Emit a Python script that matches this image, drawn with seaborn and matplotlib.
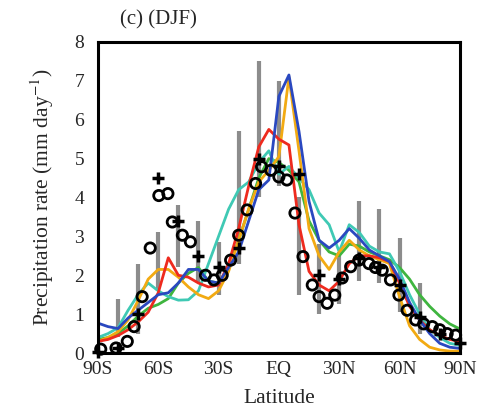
import numpy as np
import pandas as pd
import matplotlib
matplotlib.use("Agg")
import matplotlib.pyplot as plt
import seaborn as sns

# Zonal-mean DJF precipitation (mm/day) on a 5-degree latitude grid
lat = list(range(-90, 91, 5))

blue = [0.77, 0.68, 0.63, 0.90, 1.10, 1.30, 1.50, 1.55, 1.80, 2.15, 2.15, 1.85, 1.80,
        2.20, 2.60, 3.40, 4.20, 4.45, 6.60, 7.15, 5.70, 3.90, 2.90, 2.70, 2.90, 3.20,
        2.95, 2.65, 2.50, 2.35, 1.90, 1.30, 0.85, 0.50, 0.25, 0.15, 0.12]
red = [0.30, 0.35, 0.45, 0.60, 0.80, 1.05, 1.55, 2.45, 2.00, 1.95, 1.80, 1.70, 1.75,
       2.30, 3.20, 4.30, 5.30, 5.75, 5.50, 5.35, 3.30, 2.10, 1.75, 1.60, 1.85, 2.30,
       2.50, 2.50, 2.45, 2.35, 1.80, 1.20, 0.85, 0.60, 0.45, 0.35, 0.30]
orange = [0.30, 0.40, 0.55, 0.85, 1.35, 1.90, 2.15, 2.15, 1.95, 1.70, 1.50, 1.40, 1.60,
          2.10, 2.90, 3.70, 4.40, 4.70, 5.05, 7.10, 5.20, 3.20, 2.50, 2.15, 2.60, 2.90,
          2.65, 2.50, 2.40, 2.30, 1.45, 0.70, 0.35, 0.15, 0.08, 0.05, 0.05]
green = [0.35, 0.40, 0.50, 0.70, 0.95, 1.15, 1.25, 1.40, 1.80, 2.05, 2.20, 1.85, 1.80,
         2.20, 2.90, 3.70, 4.50, 5.00, 4.90, 4.70, 4.40, 3.40, 2.90, 2.60, 2.50, 2.80,
         2.75, 2.60, 2.50, 2.40, 2.20, 1.90, 1.50, 1.20, 0.95, 0.75, 0.62]
cyan = [0.40, 0.50, 0.65, 1.10, 1.50, 1.80, 1.60, 1.45, 1.36, 1.37, 1.60, 2.30, 3.00,
        3.70, 4.20, 4.40, 4.90, 5.20, 4.60, 4.80, 4.50, 4.20, 3.60, 3.30, 2.60, 3.30,
        3.10, 2.75, 2.60, 2.55, 2.10, 1.50, 1.00, 0.60, 0.40, 0.25, 0.20]

# Observational spread (gray bars) every 10 degrees
bar_lat = [-80, -70, -60, -50, -40, -30, -20, -10, 0, 10, 20, 30, 40, 50, 60, 70]
bar_lo = [0.40, 0.50, 1.60, 2.20, 1.80, 1.50, 2.30, 4.00, 4.30, 1.50, 1.00, 1.25, 1.85, 1.80, 1.05, 0.50]
bar_hi = [1.40, 2.30, 3.10, 3.80, 3.40, 2.85, 5.70, 7.50, 7.00, 4.00, 2.80, 2.60, 3.90, 3.70, 2.95, 1.80]

# Observation set 1 (plus signs)
plus_lat = [-90, -80, -70, -60, -50, -40, -30, -20, -10, 0, 10, 20, 30, 40, 50, 60, 70, 80, 90]
plus_val = [0.03, 0.13, 1.00, 4.50, 3.40, 2.50, 2.20, 2.70, 5.00, 4.80, 4.60, 2.00, 1.90,
            2.45, 2.20, 1.75, 0.93, 0.50, 0.25]

# Observation set 2 (open circles)
circ_lat = [-88.6, -81, -75.4, -72, -68, -64, -59.7, -55.2, -53, -48, -44, -36.5, -32.3,
            -28.2, -24, -20, -15.8, -11.6, -8.6, -4, 0, 4, 8, 12, 16.6, 20, 24, 27.8,
            31.5, 35.7, 39.8, 44.8, 48, 51.4, 55.5, 59.7, 63.8, 68, 72, 76.3, 80, 83.7, 87.9]
circ_val = [0.10, 0.13, 0.30, 0.68, 1.45, 2.70, 4.05, 4.10, 3.37, 3.03, 2.86, 2.00, 1.88,
            2.00, 2.39, 3.03, 3.68, 4.36, 4.79, 4.70, 4.53, 4.45, 3.60, 2.48, 1.75, 1.45,
            1.28, 1.49, 1.93, 2.22, 2.39, 2.30, 2.20, 2.13, 1.88, 1.49, 1.10, 0.85, 0.75,
            0.68, 0.60, 0.50, 0.46]

xticks = [-90, -60, -30, 0, 30, 60, 90]
xticklabels = ["90S", "60S", "30S", "EQ", "30N", "60N", "90N"]

models = {"blue": blue, "red": red, "orange": orange, "green": green, "cyan": cyan}
palette = {"blue": "#2a48c0", "red": "#ee2a1e", "orange": "#f2aa12",
           "green": "#3fb53f", "cyan": "#3fc9b4"}

df = pd.concat([pd.DataFrame({"lat": lat, "precip": v, "model": k})
                for k, v in models.items()], ignore_index=True)

sns.set_style("white")
plt.rcParams["font.family"] = ["Liberation Serif", "DejaVu Serif"]
plt.rcParams["mathtext.fontset"] = "stix"

fig = plt.figure(figsize=(4.8, 4.11), dpi=100)
ax = fig.add_axes([0.204, 0.141, 0.754, 0.757])

ax.vlines(bar_lat, bar_lo, bar_hi, colors="#8c8c8c", linewidth=3, zorder=1)

# draw green/cyan first so the others sit on top
order = ["green", "cyan", "orange", "red", "blue"]
for m in order:
    sns.lineplot(data=df[df["model"] == m], x="lat", y="precip", color=palette[m],
                 linewidth=2.0, ax=ax, legend=False, zorder=2)

sns.scatterplot(x=circ_lat, y=circ_val, ax=ax, marker="o", s=55, facecolor="none",
                edgecolor="black", linewidth=2.0, zorder=4, clip_on=False)
sns.scatterplot(x=plus_lat, y=plus_val, ax=ax, marker="+", s=70, color="black",
                linewidth=2.5, zorder=5, clip_on=False)

ax.set_xlim(-90, 90)
ax.set_ylim(0, 8)
ax.set_xticks(xticks)
ax.set_xticklabels(xticklabels)
ax.set_yticks(range(0, 9))
ax.tick_params(axis="both", direction="inout", length=7, width=2, labelsize=14,
               color="black")
ax.tick_params(axis="x", pad=2)
ax.tick_params(axis="y", pad=6.5)
for s in ax.spines.values():
    s.set_linewidth(2.2)
    s.set_color("black")

ax.set_xlabel("Latitude", fontsize=15.5, labelpad=8)
ax.set_ylabel("Precipitation rate (mm day$^{-1}$)", fontsize=15.5, labelpad=13)
ax.text(0.06, 1.04, "(c) (DJF)", transform=ax.transAxes, fontsize=15,
        ha="left", va="bottom")

fig.savefig("out.png", dpi=100)
